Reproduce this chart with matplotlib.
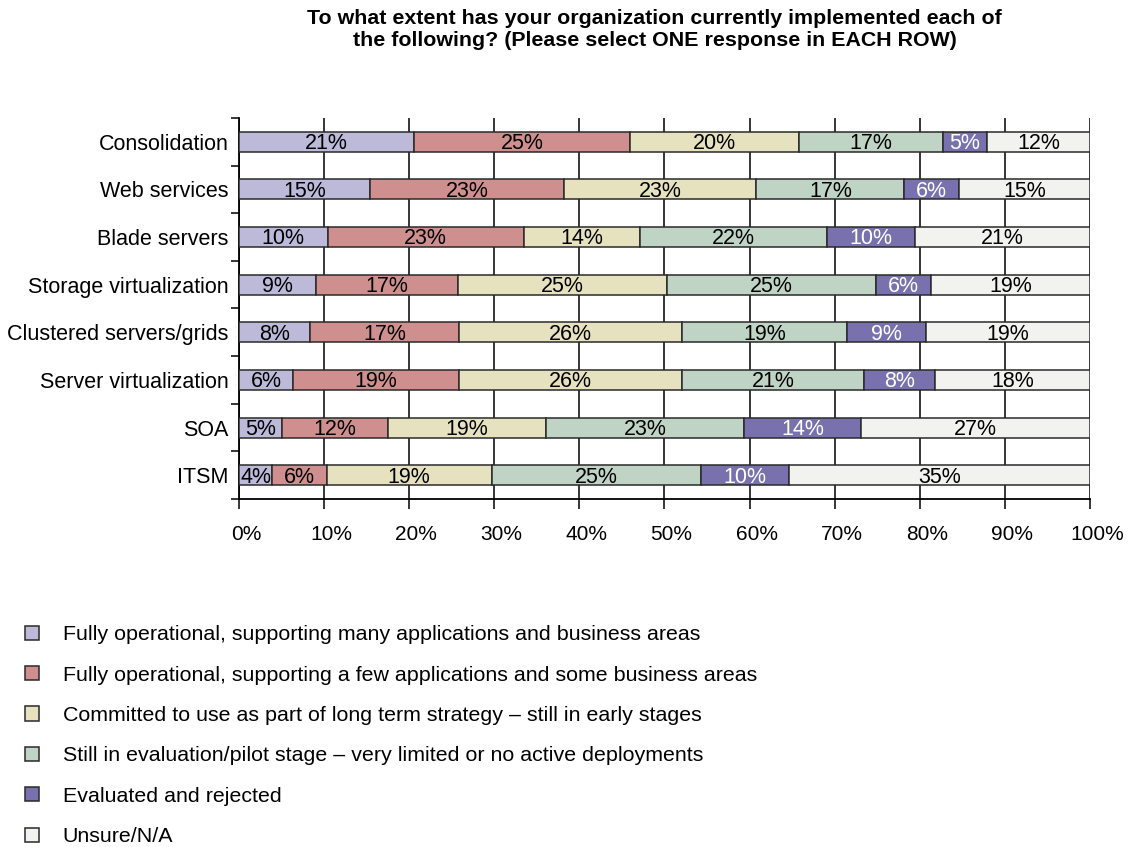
import matplotlib
matplotlib.use("Agg")
import matplotlib.pyplot as plt
import matplotlib.transforms as mtransforms
import numpy as np

plt.rcParams['font.family'] = ['Liberation Sans', 'DejaVu Sans']

categories = ["Consolidation", "Web services", "Blade servers", "Storage virtualization",
              "Clustered servers/grids", "Server virtualization", "SOA", "ITSM"]

series_names = [
    "Fully operational, supporting many applications and business areas",
    "Fully operational, supporting a few applications and some business areas",
    "Committed to use as part of long term strategy \u2013 still in early stages",
    "Still in evaluation/pilot stage \u2013 very limited or no active deployments",
    "Evaluated and rejected",
    "Unsure/N/A",
]

fully_many = [20.6, 15.4, 10.4, 9.0, 8.4, 6.4, 5.1, 3.9]
fully_few = [25.3, 22.8, 23.1, 16.7, 17.4, 19.4, 12.4, 6.4]
committed = [19.9, 22.6, 13.6, 24.6, 26.3, 26.3, 18.6, 19.4]
evaluation = [16.9, 17.4, 22.0, 24.6, 19.4, 21.4, 23.3, 24.6]
rejected = [5.2, 6.4, 10.3, 6.4, 9.2, 8.3, 13.7, 10.3]
unsure = [12.1, 15.4, 20.6, 18.7, 19.3, 18.2, 26.9, 35.4]

series = [fully_many, fully_few, committed, evaluation, rejected, unsure]
colors = ["#bcb9d9", "#cf8f8f", "#e6e2c0", "#bfd4c5", "#7971ae", "#f2f2ee"]
text_colors = ["black", "black", "black", "black", "white", "black"]

x_ticks = [0, 10, 20, 30, 40, 50, 60, 70, 80, 90, 100]

fig = plt.figure(figsize=(11.33, 8.47), dpi=100)
ax = fig.add_axes([239/1133, 1 - 499/847, (1090-239)/1133, (499-118)/847])

y = np.arange(len(categories))
left = np.zeros(len(categories))
handles = []
for vals, col, tcol, name in zip(series, colors, text_colors, series_names):
    vals = np.array(vals)
    bars = ax.barh(y, vals, left=left, height=0.42, color=col, edgecolor="#2a2a2a",
                   linewidth=1.1, zorder=3, label=name)
    handles.append(bars)
    for yi, (l, v) in enumerate(zip(left, vals)):
        ax.text(l + v / 2, yi + 0.04, f"{round(v):d}%", ha="center", va="center",
                fontsize=15.5, color=tcol, zorder=4)
    left = left + vals

ax.set_xlim(0, 100)
ax.set_ylim(len(categories) - 0.5, -0.5)
ax.set_xticks(x_ticks)
ax.set_xticklabels([f"{t}%" for t in x_ticks], fontsize=15)
ax.set_yticks(y)
ax.set_yticklabels(categories, fontsize=15.5)
ax.set_yticks(np.arange(len(categories) + 1) - 0.5, minor=True)
ax.tick_params(axis="y", which="major", length=0, pad=7.5)
ax.tick_params(axis="y", which="minor", length=6, width=1.1, direction="out", color="black")
ax.tick_params(axis="x", which="major", length=7, width=1.1, direction="out", pad=12, color="black")
ax.xaxis.grid(True, color="black", linewidth=1.1, zorder=0)
ax.set_axisbelow(True)
for s in ["top", "right"]:
    ax.spines[s].set_visible(False)
for s in ["left", "bottom"]:
    ax.spines[s].set_linewidth(1.3)
    ax.spines[s].set_color("black")

offset = mtransforms.ScaledTranslation(7/100, 0, fig.dpi_scale_trans)
for lbl in ax.get_xticklabels():
    lbl.set_transform(lbl.get_transform() + offset)

fig.text(0.578, 1 - 9/847,
         "To what extent has your organization currently implemented each of\n"
         "the following? (Please select ONE response in EACH ROW)",
         ha="center", va="top", fontsize=15.4, fontweight="bold", linespacing=1.2)

fig.legend(handles=handles, labels=series_names, loc="upper left",
           bbox_to_anchor=(6/1133, 1 - 606/847), frameon=False, fontsize=15.4,
           handlelength=0.65, handleheight=0.65, handletextpad=1.1, labelspacing=1.0)

fig.savefig("out.png", dpi=100)
